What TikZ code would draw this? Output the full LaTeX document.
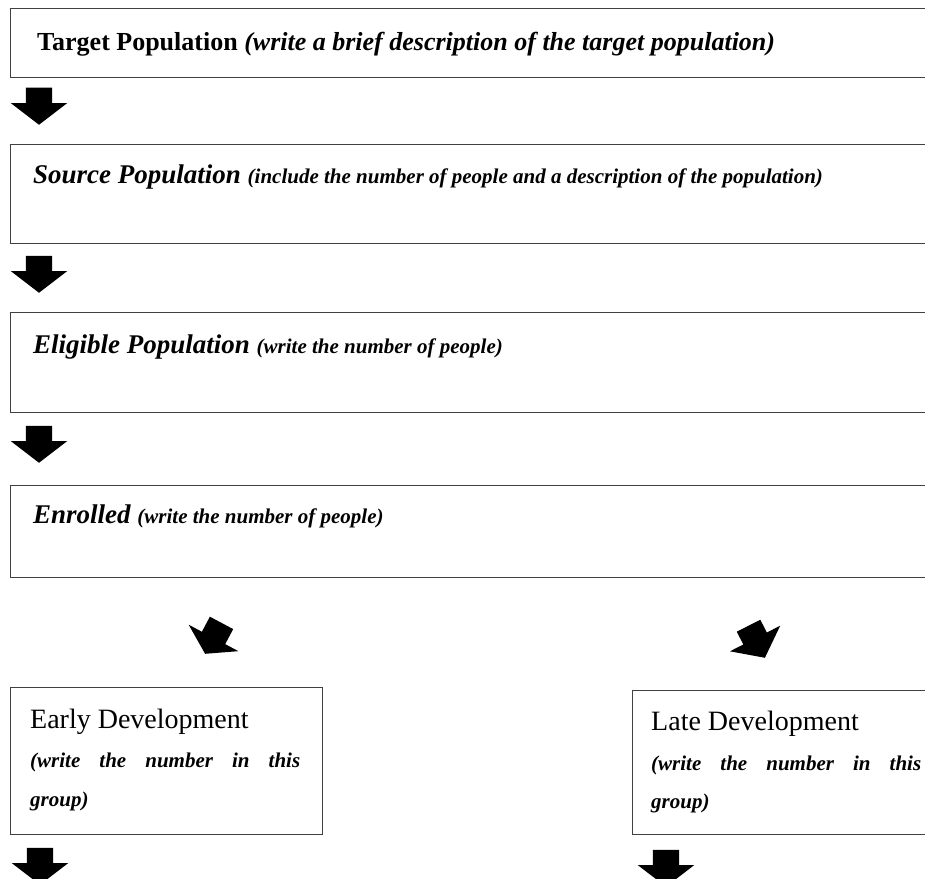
\documentclass[tikz,border=0pt]{standalone}
\usepackage{fontspec}
\setmainfont{Liberation Serif}
\usetikzlibrary{shapes.arrows,positioning}

\tikzset{
  box/.style={rectangle, draw=black!75, line width=1.2pt, anchor=north west, inner sep=0pt},
  txt/.style={anchor=base west, inner sep=0pt},
  downarrow/.style={single arrow, fill=black, draw=none, inner xsep=1pt, inner ysep=13pt,
    single arrow head extend=15pt, single arrow tip angle=105, minimum height=37pt, anchor=tip},
}

\begin{document}
\begin{tikzpicture}[x=1pt,y=-1pt]
    \useasboundingbox (0,0) rectangle (925,878);
    \clip (0,0) rectangle (925,878);

    % population boxes
    \node[box, minimum width=1000pt, minimum height=69pt] (target) at (10,8) {};
    \node[box, minimum width=1000pt, minimum height=99pt] (source) at (10,144) {};
    \node[box, minimum width=1000pt, minimum height=100pt] (eligible) at (10,312) {};
    \node[box, minimum width=1000pt, minimum height=92pt] (enrolled) at (10,485) {};
    \node[box, minimum width=312pt, minimum height=147pt] (early) at (10,687) {};
    \node[box, minimum width=400pt, minimum height=144pt] (late) at (632,690) {};

    \node[txt] (targettxt) at ([shift={(27pt,-42pt)}]target.north west)
        {\fontsize{26}{30}\selectfont\textbf{Target Population} \textbf{\textit{(write a brief description of the target population)}}};
    \node[txt] (sourcetxt) at ([shift={(23pt,-39pt)}]source.north west)
        {\fontsize{27}{30}\selectfont\bfseries\itshape Source Population \fontsize{21}{24}\selectfont(include the number of people and a description of the population)};
    \node[txt] (eligibletxt) at ([shift={(23pt,-41pt)}]eligible.north west)
        {\fontsize{27}{30}\selectfont\bfseries\itshape Eligible Population \fontsize{21}{24}\selectfont(write the number of people)};
    \node[txt] (enrolledtxt) at ([shift={(23pt,-38pt)}]enrolled.north west)
        {\fontsize{27}{30}\selectfont\bfseries\itshape Enrolled \fontsize{21}{24}\selectfont(write the number of people)};

    \node[txt] (earlyname) at ([shift={(20pt,-41pt)}]early.north west) {\fontsize{28}{32}\selectfont Early Development};
    \node[txt] (earlynum) at ([shift={(20pt,-80pt)}]early.north west)
        {\fontsize{21}{24}\selectfont\bfseries\itshape\makebox[270pt][s]{(write the number in this}};
    \node[txt] (earlygrp) at ([shift={(20pt,-119pt)}]early.north west) {\fontsize{21}{24}\selectfont\bfseries\itshape group)};

    \node[txt] (latename) at ([shift={(19pt,-40pt)}]late.north west) {\fontsize{28}{32}\selectfont Late Development};
    \node[txt] (latenum) at ([shift={(19pt,-80pt)}]late.north west)
        {\fontsize{21}{24}\selectfont\bfseries\itshape\makebox[270pt][s]{(write the number in this}};
    \node[txt] (lategrp) at ([shift={(19pt,-118pt)}]late.north west) {\fontsize{21}{24}\selectfont\bfseries\itshape group)};

    % block arrows
    \node[downarrow, rotate=-90] (a1) at (39,125) {};
    \node[downarrow, rotate=-90] (a2) at (39,293) {};
    \node[downarrow, rotate=-90] (a3) at (39,463) {};
    \node[downarrow, rotate=-118, minimum height=35pt, single arrow tip angle=115] (a4) at (205,654) {};
    \node[downarrow, rotate=-63, minimum height=36pt, single arrow tip angle=105] (a5) at (765,658) {};
    \node[downarrow, rotate=-90] (a6) at (40,885) {};
    \node[downarrow, rotate=-90] (a7) at (666,887) {};
\end{tikzpicture}
\end{document}
